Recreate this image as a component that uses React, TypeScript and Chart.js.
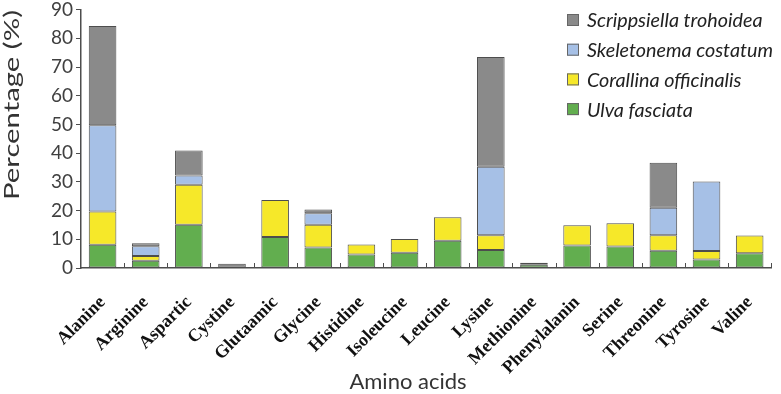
import React, { useEffect, useRef } from 'react';
import { Chart, registerables } from 'chart.js';

Chart.register(...registerables);

const categories = [
  'Alanine', 'Arginine', 'Aspartic', 'Cystine', 'Glutaamic', 'Glycine', 'Histidine', 'Isoleucine',
  'Leucine', 'Lysine', 'Methionine', 'Phenylalanin', 'Serine', 'Threonine', 'Tyrosine', 'Valine',
];
const ulvaFasciata = [8.1, 2.5, 15.1, null, 10.8, 7.1, 4.7, 5.3, 9.5, 6.3, 1.1, 7.8, 7.5, 6.0, 3.0, 5.1];
const corallinaOfficinalis = [11.6, 1.7, 13.9, null, 12.9, 8.0, 3.5, 4.8, 8.2, 5.1, null, 7.1, 8.1, 5.4, 2.9, 6.2];
const skeletonemaCostatum = [30.0, 3.4, 3.2, null, null, 4.0, null, null, null, 23.9, null, null, null, 9.6, 24.2, null];
const scrippsiellaTrohoidea = [34.6, 1.0, 8.7, 1.5, null, 1.3, null, null, null, 38.2, 0.7, null, null, 15.7, null, null];
const seriesNames = ['Ulva fasciata', 'Corallina officinalis', 'Skeletonema costatum', 'Scrippsiella trohoidea'];
const seriesColors = ['#62ae4f', '#f6e829', '#a6c0e6', '#8a8a8a'];
const yMax = 90;
const yStep = 10;
const xTitle = 'Amino acids';
const yTitle = 'Percentage (%)';

const decorPlugin = {
  id: 'decor',
  afterDraw(chart: any) {
    const ctx = chart.ctx;
    const xs = chart.scales.x;
    const area = chart.chartArea;
    ctx.save();
    // inward category-boundary ticks on x axis
    const half = (xs.getPixelForValue(1) - xs.getPixelForValue(0)) / 2;
    ctx.strokeStyle = '#4d4d4d';
    ctx.lineWidth = 1;
    for (let i = 0; i < categories.length; i++) {
      const px = Math.round(xs.getPixelForValue(i) + half) + 0.5;
      ctx.beginPath();
      ctx.moveTo(px, area.bottom);
      ctx.lineTo(px, area.bottom - 5);
      ctx.stroke();
    }
    // legend
    const ds = chart.data.datasets;
    ctx.font = 'italic 20px Lato';
    ctx.textBaseline = 'middle';
    ctx.textAlign = 'left';
    const legendScale = 186 / ctx.measureText(seriesNames[2]).width;
    const lx = 567;
    const rowH = 29.7;
    for (let k = 0; k < ds.length; k++) {
      const d = ds[ds.length - 1 - k];
      const cy = 20 + k * rowH;
      ctx.fillStyle = d.backgroundColor;
      ctx.fillRect(lx, cy - 6, 12, 12);
      ctx.strokeStyle = '#666';
      ctx.strokeRect(lx + 0.5, cy - 5.5, 11, 11);
      ctx.fillStyle = '#222';
      ctx.save();
      ctx.translate(lx + 20, cy + 1);
      ctx.scale(legendScale, 1);
      ctx.fillText(d.label, 0, 0);
      ctx.restore();
    }
    // axis titles
    ctx.fillStyle = '#333';
    ctx.font = '22px Lato';
    ctx.textAlign = 'center';
    ctx.fillText(xTitle, 408, 382);
    ctx.font = '21px Lato';
    const yScale = 190 / ctx.measureText(yTitle).width;
    ctx.translate(12, 105);
    ctx.rotate(-Math.PI / 2);
    ctx.scale(yScale, 1);
    ctx.fillText(yTitle, 0, 0);
    ctx.restore();
  },
};

export default function App() {
  const ref = useRef<HTMLCanvasElement>(null);
  useEffect(() => {
    const series = [ulvaFasciata, corallinaOfficinalis, skeletonemaCostatum, scrippsiellaTrohoidea];
    const chart = new Chart(ref.current!, {
      type: 'bar',
      data: {
        labels: categories,
        datasets: series.map((s, i) => ({
          label: seriesNames[i],
          data: s,
          backgroundColor: seriesColors[i],
          borderColor: '#4d4d4d',
          borderWidth: 1,
          borderSkipped: false,
          categoryPercentage: 1,
          barPercentage: 0.64,
        })),
      },
      options: {
        animation: false,
        responsive: true,
        maintainAspectRatio: false,
        layout: { padding: { left: 0, right: 2, top: 0, bottom: 0 } },
        plugins: { legend: { display: false }, tooltip: { enabled: false } },
        scales: {
          x: {
            stacked: true,
            grid: { display: false },
            border: { display: true, color: '#4d4d4d', width: 1.5 },
            ticks: {
              minRotation: 45,
              maxRotation: 45,
              padding: 16,
              color: '#111',
              font: { family: 'Liberation Serif', weight: 'bold', size: 18 },
            },
            afterFit: (s: any) => { s.height = 126; },
          },
          y: {
            stacked: true,
            min: 0,
            max: yMax,
            grid: { drawOnChartArea: false, drawTicks: true, tickLength: 5, color: '#4d4d4d' },
            border: { display: true, color: '#4d4d4d', width: 1.5 },
            ticks: {
              stepSize: yStep,
              padding: 3,
              color: '#404040',
              font: { family: 'Lato', size: 19, lineHeight: 0.7 },
            },
            afterFit: (s: any) => { s.width = 81; },
          },
        },
      },
      plugins: [decorPlugin],
    });
    return () => chart.destroy();
  }, []);
  return (
    <div style={{ position: 'fixed', left: 0, top: 0, width: 781, height: 394, background: '#fff' }}>
      <canvas ref={ref} />
    </div>
  );
}
